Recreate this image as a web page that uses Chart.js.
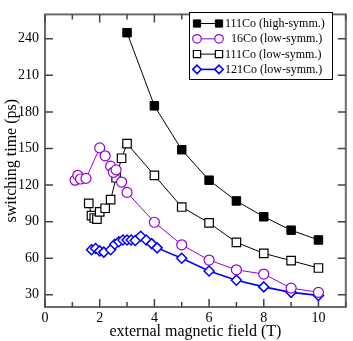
<!DOCTYPE html>
<html>
<head>
<meta charset="utf-8">
<script src="https://cdn.jsdelivr.net/npm/chart.js@4/dist/chart.umd.min.js"></script>
<style>
html,body{margin:0;padding:0;background:#fff;}
canvas{display:block;}
</style>
</head>
<body>
<canvas id="c" width="353" height="341"></canvas>
<script>
// ---- data ----
const fieldHigh111 = [3, 4, 5, 6, 7, 8, 9, 10];
const timeHigh111  = [245, 185, 149, 124, 107, 94, 83, 75];

const field16 = [1.1, 1.2, 1.3, 1.5, 2.0, 2.2, 2.4, 2.5, 2.6, 2.8, 3.0, 4, 5, 6, 7, 8, 9, 10];
const time16  = [124, 128, 125, 125.5, 150.5, 144, 135.5, 130.5, 132.5, 122.5, 114, 89.5, 71, 58.5, 50.5, 47, 35.5, 32];

const fieldLow111 = [1.6, 1.7, 1.8, 1.9, 2.0, 2.2, 2.4, 2.6, 2.8, 3, 4, 5, 6, 7, 8, 9, 10];
const timeLow111  = [105, 95, 93, 92, 98, 101, 108, 126, 142, 154, 128, 102, 89, 73, 64, 58, 52];

const field121 = [1.7, 1.85, 2.0, 2.15, 2.4, 2.55, 2.7, 2.85, 3.0, 3.15, 3.3, 3.5, 3.7, 3.9, 4.1, 5, 6, 7, 8, 9, 10];
const time121  = [67, 68, 66, 65, 67, 71.5, 73.5, 75, 75, 75, 74.5, 78, 75, 72, 68.5, 60, 49.5, 42, 36.5, 32, 29.5];

const seriesLabels = ['111Co (high-symm.)', '  16Co (low-symm.)', '111Co (low-symm.)', '121Co (low-symm.)'];

const xTickValues = [0, 2, 4, 6, 8, 10];
const xMinorValues = [1, 3, 5, 7, 9, 11];
const yTickValues = [30, 60, 90, 120, 150, 180, 210, 240];

const xTitle = 'external magnetic field (T)';
const yTitle = 'switching time (ps)';

function pts(xs, ys) { return xs.map((x, i) => ({x: x, y: ys[i]})); }

const PURPLE = '#9400d3';
const BLUE = '#0000ff';
const FONT = "'Liberation Serif', 'DejaVu Serif', serif";

const framePlugin = {
  id: 'frame',
  beforeDatasetsDraw(chart) {
    const {ctx, chartArea: a, scales} = chart;
    ctx.save();
    ctx.strokeStyle = '#6a6a6a';
    ctx.lineWidth = 2;
    ctx.strokeRect(a.left, a.top, a.right - a.left, a.bottom - a.top);
    ctx.strokeStyle = '#444';
    ctx.lineWidth = 1.5;
    ctx.beginPath();
    const xs = scales.x, ys = scales.y;
    xTickValues.forEach(v => {
      const px = xs.getPixelForValue(v);
      ctx.moveTo(px, a.bottom); ctx.lineTo(px, a.bottom - 8);
      ctx.moveTo(px, a.top); ctx.lineTo(px, a.top + 8);
    });
    xMinorValues.forEach(v => {
      const px = xs.getPixelForValue(v);
      ctx.moveTo(px, a.bottom); ctx.lineTo(px, a.bottom - 5);
      ctx.moveTo(px, a.top); ctx.lineTo(px, a.top + 5);
    });
    yTickValues.forEach(v => {
      const py = ys.getPixelForValue(v);
      ctx.moveTo(a.left, py); ctx.lineTo(a.left + 8, py);
      ctx.moveTo(a.right, py); ctx.lineTo(a.right - 8, py);
    });
    ctx.stroke();
    ctx.restore();
  }
};

const legendPlugin = {
  id: 'boxLegend',
  afterDatasetsDraw(chart) {
    const ctx = chart.ctx;
    const bx = 189.5, by = 12.5, bw = 143, bh = 67;
    ctx.save();
    ctx.fillStyle = '#fff';
    ctx.fillRect(bx, by, bw, bh);
    ctx.strokeStyle = '#000';
    ctx.lineWidth = 1;
    ctx.strokeRect(bx, by, bw, bh);
    ctx.font = '12px ' + FONT;
    ctx.textBaseline = 'middle';
    ctx.textAlign = 'left';
    chart.data.datasets.forEach((ds, i) => {
      const y = 23.5 + i * 15.3;
      const x1 = 197, x2 = 219;
      ctx.strokeStyle = ds.borderColor;
      ctx.lineWidth = ds.borderWidth;
      ctx.beginPath(); ctx.moveTo(x1, y); ctx.lineTo(x2, y); ctx.stroke();
      const opts = {pointStyle: ds.pointStyle, radius: ds.pointRadius * 0.85, rotation: 0, borderWidth: ds.pointBorderWidth};
      ctx.fillStyle = ds.pointBackgroundColor;
      ctx.strokeStyle = ds.pointBorderColor;
      ctx.lineWidth = ds.pointBorderWidth;
      Chart.helpers.drawPoint(ctx, opts, x1, y);
      Chart.helpers.drawPoint(ctx, opts, x2, y);
      ctx.fillStyle = '#000';
      ctx.fillText(ds.label, 225, y + 0.5);
    });
    ctx.restore();
  }
};

new Chart(document.getElementById('c'), {
  type: 'scatter',
  data: {
    datasets: [
      {label: seriesLabels[0], data: pts(fieldHigh111, timeHigh111), showLine: true,
       borderColor: '#000', borderWidth: 1, pointStyle: 'rect', pointRadius: 6,
       pointBackgroundColor: '#000', pointBorderColor: '#000', pointBorderWidth: 1},
      {label: seriesLabels[1], data: pts(field16, time16), showLine: true,
       borderColor: PURPLE, borderWidth: 1, pointStyle: 'circle', pointRadius: 5,
       pointBackgroundColor: '#fff', pointBorderColor: PURPLE, pointBorderWidth: 1.2},
      {label: seriesLabels[2], data: pts(fieldLow111, timeLow111), showLine: true,
       borderColor: '#000', borderWidth: 1, pointStyle: 'rect', pointRadius: 6,
       pointBackgroundColor: '#fff', pointBorderColor: '#000', pointBorderWidth: 1.2},
      {label: seriesLabels[3], data: pts(field121, time121), showLine: true,
       borderColor: BLUE, borderWidth: 1.6, pointStyle: 'rectRot', pointRadius: 5,
       pointBackgroundColor: '#fff', pointBorderColor: BLUE, pointBorderWidth: 1.5}
    ]
  },
  options: {
    responsive: false,
    devicePixelRatio: 1,
    animation: false,
    layout: {padding: {top: 1, right: 1, left: 0, bottom: 0}},
    plugins: {legend: {display: false}, tooltip: {enabled: false}},
    scales: {
      x: {
        type: 'linear', min: 0, max: 11,
        grid: {display: false, drawTicks: false}, border: {display: false},
        afterBuildTicks: s => { s.ticks = xTickValues.map(v => ({value: v})); },
        afterFit: s => { s.height = 34; },
        ticks: {color: '#000', padding: 3, font: {family: FONT, size: 14}, maxRotation: 0},
        title: {display: true, text: xTitle, color: '#000', font: {family: FONT, size: 16}, padding: {top: 0, bottom: 0}}
      },
      y: {
        type: 'linear', min: 20, max: 260,
        grid: {display: false, drawTicks: false}, border: {display: false},
        afterBuildTicks: s => { s.ticks = yTickValues.map(v => ({value: v})); },
        afterFit: s => { s.width = 45; },
        ticks: {color: '#000', padding: 6, font: {family: FONT, size: 14}},
        title: {display: true, text: yTitle, color: '#000', font: {family: FONT, size: 16}, padding: {top: 2, bottom: 0}}
      }
    }
  },
  plugins: [framePlugin, legendPlugin]
});
</script>
</body>
</html>
